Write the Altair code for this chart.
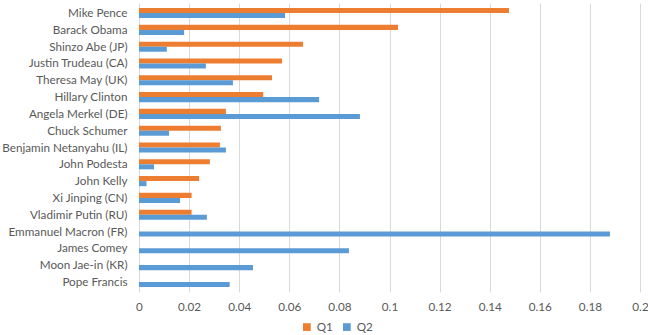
import altair as alt
import pandas as pd

names = [
    "Mike Pence", "Barack Obama", "Shinzo Abe (JP)", "Justin Trudeau (CA)",
    "Theresa May (UK)", "Hillary Clinton", "Angela Merkel (DE)", "Chuck Schumer",
    "Benjamin Netanyahu (IL)", "John Podesta", "John Kelly", "Xi Jinping (CN)",
    "Vladimir Putin (RU)", "Emmanuel Macron (FR)", "James Comey",
    "Moon Jae-in (KR)", "Pope Francis",
]
q1 = [0.1477, 0.1034, 0.0655, 0.0571, 0.0531, 0.0496, 0.0347, 0.0327,
      0.0323, 0.0283, 0.0240, 0.0210, 0.0210, None, None, None, None]
q2 = [0.0583, 0.0180, 0.0111, 0.0267, 0.0375, 0.0719, 0.0882, 0.0120,
      0.0347, 0.0060, 0.0030, 0.0164, 0.0271, 0.1880, 0.0838, 0.0455, 0.0362]
series = ["Q1", "Q2"]
x_ticks = [0, 0.02, 0.04, 0.06, 0.08, 0.1, 0.12, 0.14, 0.16, 0.18, 0.2]

rows = []
for n, a, b in zip(names, q1, q2):
    if a is not None:
        rows.append({"name": n, "quarter": "Q1", "value": a})
    rows.append({"name": n, "quarter": "Q2", "value": b})
df = pd.DataFrame(rows)

FONT = "Lato"
TEXT = "#595959"
SIZE = 11.7

chart = alt.Chart(df).mark_bar().encode(
    y=alt.Y("name:N", sort=names, title=None,
            scale=alt.Scale(paddingInner=0.4, paddingOuter=0.3),
            axis=alt.Axis(ticks=False, domain=False, labelPadding=12,
                          labelFontSize=SIZE, labelColor=TEXT, labelFont=FONT)),
    yOffset=alt.YOffset("quarter:N", sort=series),
    x=alt.X("value:Q", title=None,
            scale=alt.Scale(domain=[0, 0.2], nice=False),
            axis=alt.Axis(values=x_ticks, ticks=False, domain=False, format="~g",
                          gridColor="#D9D9D9", gridWidth=1, labelPadding=9,
                          labelFontSize=SIZE, labelColor=TEXT, labelFont=FONT,
                          labelFlush=False)),
    color=alt.Color("quarter:N", sort=series, title=None,
                    scale=alt.Scale(domain=series, range=["#ED7D31", "#5B9BD5"]),
                    legend=alt.Legend(orient="none", direction="horizontal",
                                      legendX=162, legendY=318,
                                      symbolType="square", symbolSize=60,
                                      symbolStrokeWidth=0,
                                      labelFontSize=SIZE, labelColor=TEXT,
                                      labelFont=FONT, columnPadding=8)),
).properties(
    width=501, height=289,
    autosize=alt.AutoSizeParams(type="none"),
    padding={"left": 139, "top": 3, "right": 8, "bottom": 43},
).configure_view(stroke=None)

chart.save("out.html", embed_options={"renderer": "svg", "actions": False})
